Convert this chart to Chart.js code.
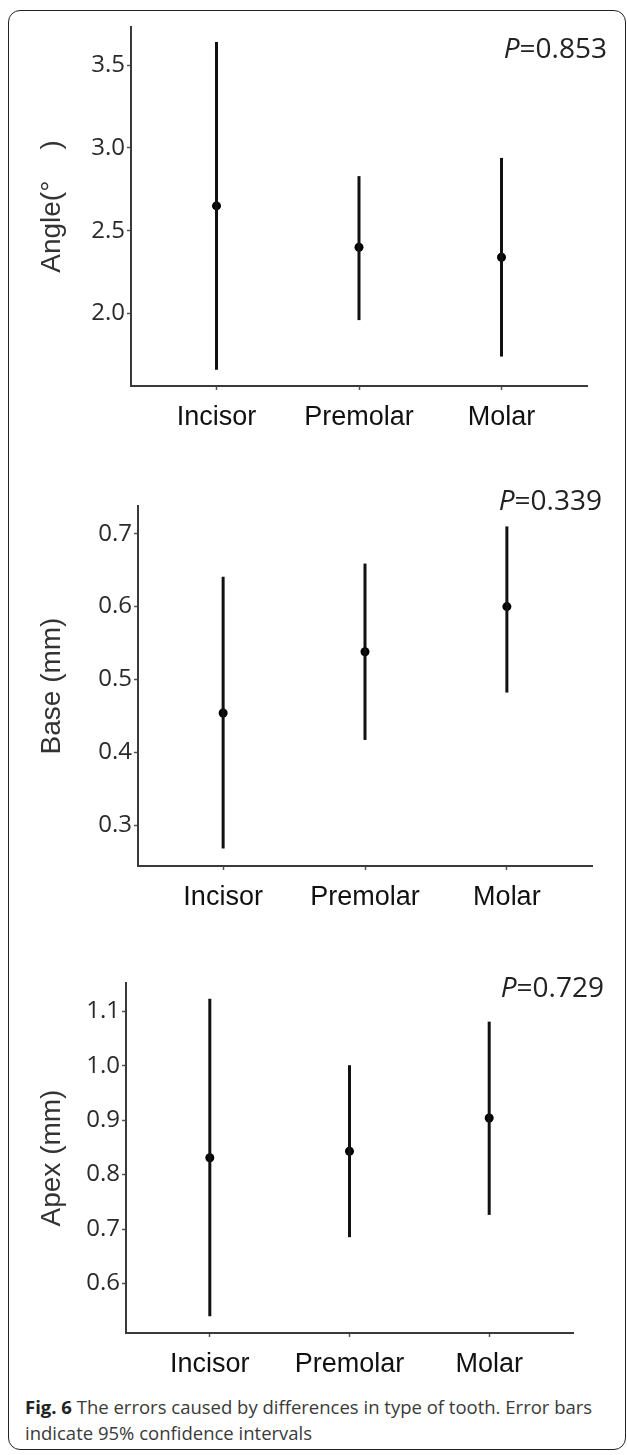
<!DOCTYPE html>
<html>
<head>
<meta charset="utf-8">
<script src="https://cdn.jsdelivr.net/npm/chart.js@4.4.1/dist/chart.umd.min.js"></script>
<style>
  html, body { margin: 0; padding: 0; background: #fff; }
  #fig { position: relative; width: 627px; height: 1455px; overflow: hidden; background: #fff; }
  #fig canvas { position: absolute; left: 0; }
  .frame { position: absolute; left: 8px; top: 10px; width: 618px; height: 1440px;
           border: 1.5px solid #222; border-radius: 12px; box-sizing: border-box; }
  .pval { position: absolute; font-family: "Open Sans", sans-serif; font-size: 28px;
          color: #222; line-height: 34px; text-align: right; white-space: nowrap; }
  .caption { position: absolute; left: 25px; top: 1394px; width: 600px;
             font-family: "Open Sans", sans-serif; font-size: 18.5px; line-height: 26px; color: #3a3a3a; }
  .caption b { color: #222; }
</style>
</head>
<body>
<div id="fig">
  <div class="frame"></div>
  <canvas id="c1"></canvas>
  <canvas id="c2"></canvas>
  <canvas id="c3"></canvas>
  <div class="pval" id="p1" style="right:20px; top:30px;"></div>
  <div class="pval" id="p2" style="right:25px; top:482px;"></div>
  <div class="pval" id="p3" style="right:23px; top:969px;"></div>
  <div class="caption"><b>Fig. 6</b> The errors caused by differences in type of tooth. Error bars<br>indicate 95% confidence intervals</div>
</div>
<script>
// ---------- data ----------
const categories = ['Incisor', 'Premolar', 'Molar'];

const angleMean = [2.65, 2.40, 2.34];
const angleLow  = [1.66, 1.96, 1.74];
const angleHigh = [3.64, 2.83, 2.94];
const angleTicks = [2.0, 2.5, 3.0, 3.5];
const angleRange = [1.562, 3.731];

const baseMean = [0.454, 0.538, 0.600];
const baseLow  = [0.268, 0.417, 0.482];
const baseHigh = [0.641, 0.659, 0.710];
const baseTicks = [0.3, 0.4, 0.5, 0.6, 0.7];
const baseRange = [0.244, 0.738];

const apexMean = [0.831, 0.843, 0.904];
const apexLow  = [0.540, 0.685, 0.726];
const apexHigh = [1.123, 1.001, 1.081];
const apexTicks = [0.6, 0.7, 0.8, 0.9, 1.0, 1.1];
const apexRange = [0.509, 1.152];

const pValues = ['0.853', '0.339', '0.729'];
const yTitles = ['Angle(\u00B0    )', 'Base (mm)', 'Apex (mm)'];

// ---------- p labels ----------
['p1', 'p2', 'p3'].forEach((id, i) => {
  document.getElementById(id).innerHTML = '<i>P</i>=' + pValues[i];
});

// ---------- chart builder ----------
const W = 627;
function makePanel(id, slice, area, range, ticks, mean, low, high, title) {
  const cv = document.getElementById(id);
  const h = slice[1] - slice[0];
  cv.width = W; cv.height = h;
  cv.style.top = slice[0] + 'px';
  cv.style.width = W + 'px'; cv.style.height = h + 'px';

  const datasets = [];
  categories.forEach((c, i) => {
    datasets.push({
      type: 'scatter',
      data: [{ x: i + 1, y: low[i] }, { x: i + 1, y: high[i] }],
      showLine: true,
      borderColor: '#111',
      borderWidth: 3,
      pointRadius: 0,
      borderCapStyle: 'butt'
    });
  });
  datasets.push({
    type: 'scatter',
    data: categories.map((c, i) => ({ x: i + 1, y: mean[i] })),
    showLine: false,
    pointRadius: 4.5,
    pointBackgroundColor: '#000',
    pointBorderColor: '#000',
    pointBorderWidth: 0
  });

  return new Chart(cv, {
    type: 'scatter',
    data: { datasets },
    options: {
      responsive: false,
      animation: false,
      events: [],
      layout: { padding: { top: area.top - slice[0], right: W - area.right, left: 0, bottom: 0 } },
      plugins: { legend: { display: false }, tooltip: { enabled: false }, title: { display: false } },
      scales: {
        x: {
          type: 'linear',
          min: 0.4, max: 3.6,
          afterBuildTicks: s => { s.ticks = categories.map((c, i) => ({ value: i + 1 })); },
          afterFit: s => { s.height = slice[1] - area.bottom; },
          ticks: {
            callback: v => categories[Math.round(v) - 1],
            color: '#111',
            padding: 11,
            font: { family: 'Liberation Sans', size: 27, lineHeight: 1.2 },
            maxRotation: 0, autoSkip: false
          },
          grid: { display: true, drawOnChartArea: false, drawTicks: true, tickLength: 4, tickColor: '#555', tickWidth: 1.5 },
          border: { display: true, color: '#3a3a3a', width: 2 }
        },
        y: {
          type: 'linear',
          min: range[0], max: range[1],
          afterBuildTicks: s => { s.ticks = ticks.map(v => ({ value: v })); },
          afterFit: s => { s.width = area.left; },
          ticks: {
            callback: v => Number(v).toFixed(1),
            color: '#2a2a2a',
            padding: 2,
            font: { family: 'Open Sans', size: 24 }
          },
          grid: { display: true, drawOnChartArea: false, drawTicks: true, tickLength: 4, tickColor: '#555', tickWidth: 1.5 },
          border: { display: true, color: '#3a3a3a', width: 2 },
          title: {
            display: true,
            text: title,
            color: '#333',
            font: { family: 'Liberation Sans', size: 28, lineHeight: 1.2 },
            padding: { top: 35, bottom: 0 }
          }
        }
      }
    }
  });
}

function draw() {
  makePanel('c1', [0, 460], { left: 131, right: 587, top: 27, bottom: 386 }, angleRange, angleTicks, angleMean, angleLow, angleHigh, yTitles[0]);
  makePanel('c2', [460, 930], { left: 138, right: 592, top: 506, bottom: 866 }, baseRange, baseTicks, baseMean, baseLow, baseHigh, yTitles[1]);
  makePanel('c3', [930, 1390], { left: 126, right: 573, top: 983, bottom: 1333 }, apexRange, apexTicks, apexMean, apexLow, apexHigh, yTitles[2]);
}

Promise.all([
  document.fonts.load('24px "Open Sans"'),
  document.fonts.load('27px "Liberation Sans"')
]).then(draw, draw);
</script>
</body>
</html>
